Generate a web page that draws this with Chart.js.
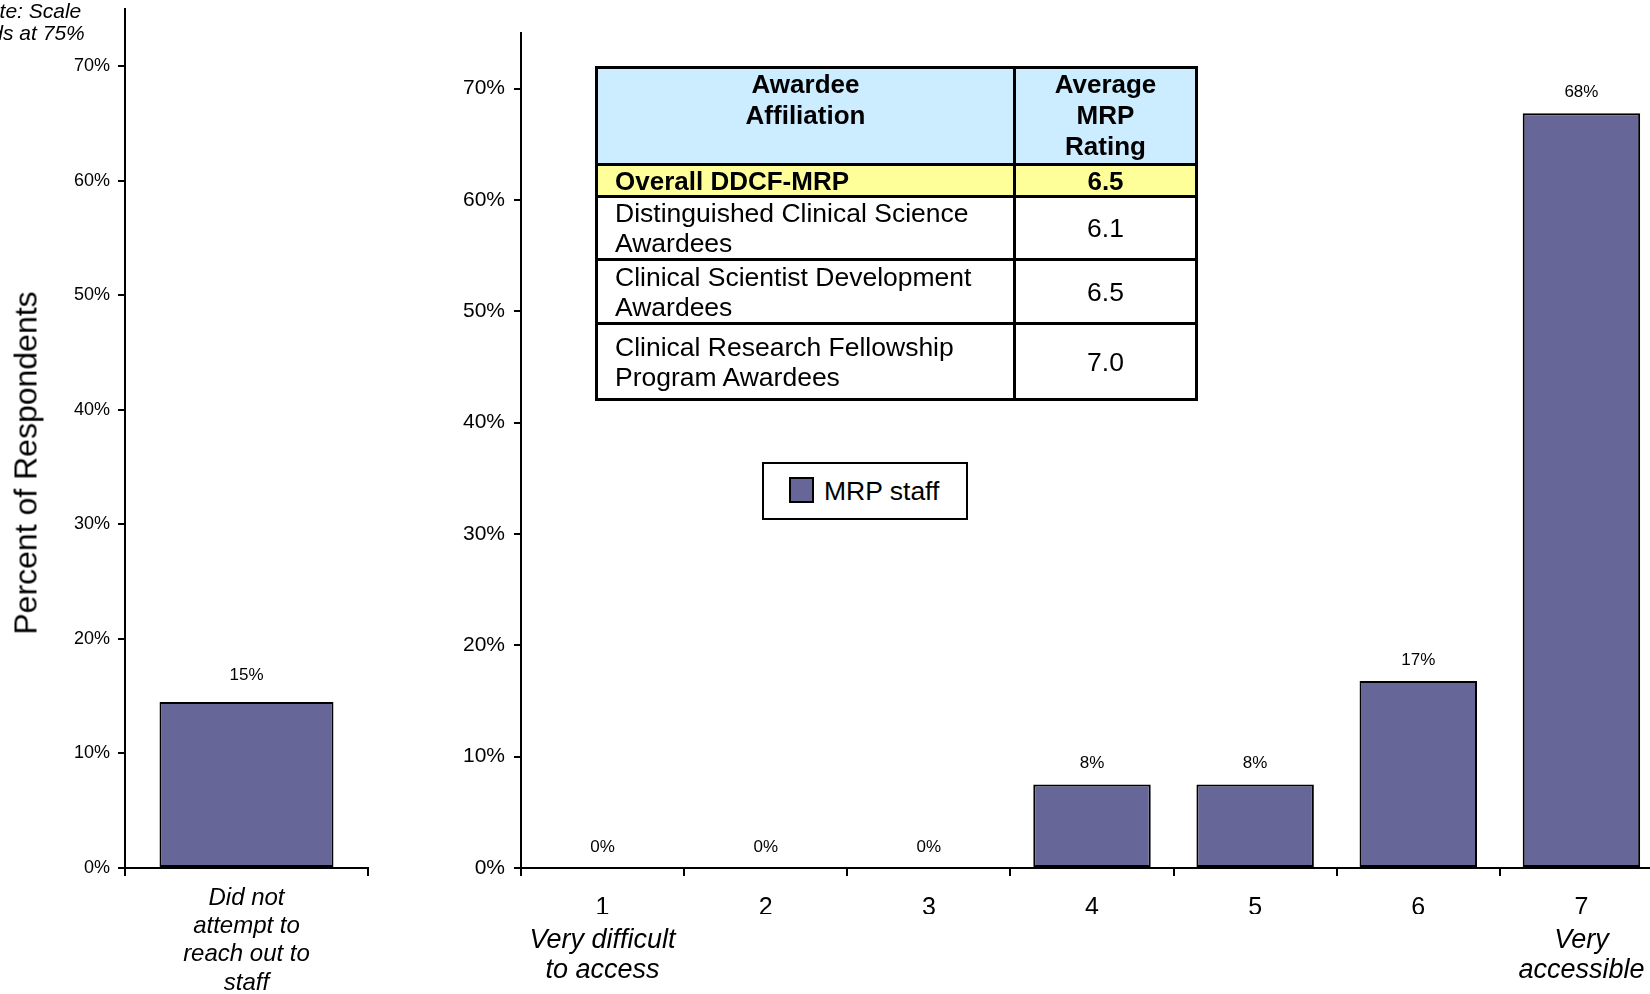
<!DOCTYPE html>
<html>
<head>
<meta charset="utf-8">
<script src="https://cdn.jsdelivr.net/npm/chart.js@4.4.1/dist/chart.umd.min.js"></script>
<style>
  html, body { margin: 0; padding: 0; background: #fff; }
  body { position: relative; width: 1650px; height: 994px; overflow: hidden; font-family: "Liberation Sans", Arial, sans-serif; color: #000; }
  canvas { position: absolute; top: 0; }
  #leftChart { left: 0; }
  #rightChart { left: 441px; }
  #note { position: absolute; left: -28px; top: 0; width: 110px; text-align: center; font-style: italic; font-size: 21px; line-height: 22px; white-space: nowrap; }
  #note div + div { position: relative; left: -4px; }
  #yTitle { position: absolute; left: 26px; top: 463px; transform: translate(-50%, -50%) rotate(-90deg); font-size: 32px; white-space: nowrap; }
  #ratingTable { position: absolute; left: 595px; top: 66px; width: 600px; border-collapse: collapse; table-layout: fixed; font-size: 26.5px; line-height: 30px; }
  #ratingTable th, #ratingTable td { border: 3px solid #000; padding: 0; }
  #ratingTable th { background: #CCECFF; font-weight: bold; font-size: 26px; text-align: center; vertical-align: top; line-height: 31px; }
  #ratingTable td { vertical-align: middle; }
  #ratingTable td.name { padding-left: 17px; }
  #ratingTable td.val { text-align: center; }
  #ratingTable tr.overall td { background: #FFFF99; font-weight: bold; font-size: 26px; line-height: 28px; }
  #legend { position: absolute; left: 762px; top: 462px; width: 206px; height: 58px; box-sizing: border-box; border: 2px solid #000; background: #fff; }
  #legend .swatch { position: absolute; left: 25px; top: 13px; width: 25px; height: 26px; box-sizing: border-box; border: 2px solid #000; background: #666699; }
  #legend .text { position: absolute; left: 60px; top: 12px; font-size: 26.5px; line-height: 30px; white-space: nowrap; }
</style>
</head>
<body>
<canvas id="leftChart" width="380" height="994"></canvas>
<canvas id="rightChart" width="1240" height="994"></canvas>
<div id="note"><div>Note: Scale</div><div>ends at 75%</div></div>
<div id="yTitle">Percent of Respondents</div>
<table id="ratingTable"></table>
<div id="legend"><span class="swatch"></span><span class="text">MRP staff</span></div>
<script>
// accessibility rating, 1..7
const scaleLabels = ['1', '2', '3', '4', '5', '6', '7'];
const scaleEnds = [['Very difficult', 'to access'], '', '', '', '', '', ['Very', 'accessible']];
const staffValues = [0, 0, 0, 7.5, 7.5, 16.8, 67.8];

// separate panel on the left
const noAttemptLabels = [['Did not', 'attempt to', 'reach out to', 'staff']];
const noAttemptValues = [14.5];

const yTicks = [0, 10, 20, 30, 40, 50, 60, 70];
const seriesName = 'MRP staff';

// inset table
const tableHead = [['Awardee', 'Affiliation'], ['Average', 'MRP', 'Rating']];
const affiliations = [
    'Overall DDCF-MRP',
    'Distinguished Clinical Science Awardees',
    'Clinical Scientist Development Awardees',
    'Clinical Research Fellowship Program Awardees'
];
const ratings = ['6.5', '6.1', '6.5', '7.0'];
const rowHeights = [97, 32, 63, 64, 76];

// build the table
const table = document.getElementById('ratingTable');
let html = '<colgroup><col style="width:418px"><col style="width:182px"></colgroup>';
html += '<tr style="height:' + rowHeights[0] + 'px"><th>' + tableHead[0].join('<br>') + '</th><th>' + tableHead[1].join('<br>') + '</th></tr>';
affiliations.forEach((name, i) => {
    const cls = i === 0 ? ' class="overall"' : '';
    html += '<tr' + cls + ' style="height:' + rowHeights[i + 1] + 'px"><td class="name">' + name + '</td><td class="val">' + ratings[i] + '</td></tr>';
});
table.innerHTML = html;

Chart.defaults.font.family = '"Liberation Sans", Arial, sans-serif';
Chart.defaults.color = '#000';
Chart.defaults.animation = false;

const barColor = '#666699';

const axisGrid = (len) => ({
    display: true,
    drawOnChartArea: false,
    drawTicks: true,
    tickLength: len,
    color: '#000',
    lineWidth: 2
});
const axisBorder = { display: true, color: '#000', width: 2 };

// keep label overflow from pushing the plot area around
const noPad = (s) => { s.paddingTop = 0; s.paddingBottom = 0; s.paddingLeft = 0; s.paddingRight = 0; };

// value labels above the bars
const barLabels = {
    id: 'barLabels',
    afterDatasetsDraw(chart, args, opts) {
        const ctx = chart.ctx;
        const values = chart.data.datasets[0].data;
        ctx.save();
        ctx.font = opts.font;
        ctx.fillStyle = '#000';
        ctx.textAlign = 'center';
        ctx.textBaseline = 'middle';
        chart.getDatasetMeta(0).data.forEach((bar, i) => {
            ctx.fillText(Math.round(values[i]) + '%', bar.x, bar.y - opts.gap);
        });
        ctx.restore();
    }
};

const yScale = (fontSize, pad, width) => ({
    min: 0,
    max: 75,
    grid: axisGrid(7),
    border: axisBorder,
    ticks: { font: { size: fontSize }, padding: pad, callback: v => v + '%' },
    afterBuildTicks: s => { s.ticks = yTicks.map(v => ({ value: v })); },
    afterFit: s => { s.width = width; noPad(s); }
});

new Chart(document.getElementById('leftChart'), {
    type: 'bar',
    data: {
        labels: noAttemptLabels,
        datasets: [{
            label: seriesName,
            data: noAttemptValues,
            backgroundColor: barColor,
            borderColor: '#000',
            borderWidth: 2,
            borderSkipped: false,
            barPercentage: 0.716,
            categoryPercentage: 1
        }]
    },
    options: {
        responsive: false,
        layout: { autoPadding: false, padding: { top: 9, right: 12, bottom: 0, left: 0 } },
        plugins: {
            legend: { display: false },
            tooltip: { enabled: false },
            barLabels: { font: '17px "Liberation Sans"', gap: 27 }
        },
        scales: {
            x: {
                grid: axisGrid(8),
                border: axisBorder,
                ticks: { font: { size: 24, style: 'italic', lineHeight: 1.18 }, padding: 8, maxRotation: 0, autoSkip: false },
                afterFit: s => { s.height = 126; noPad(s); }
            },
            y: yScale(18, 8, 125)
        }
    },
    plugins: [barLabels]
});

new Chart(document.getElementById('rightChart'), {
    type: 'bar',
    data: {
        labels: scaleLabels,
        datasets: [{
            label: seriesName,
            data: staffValues,
            backgroundColor: barColor,
            borderColor: '#000',
            borderWidth: 2,
            borderSkipped: false,
            barPercentage: 0.72,
            categoryPercentage: 1
        }]
    },
    options: {
        responsive: false,
        layout: { autoPadding: false, padding: { top: 33, right: 18, bottom: 0, left: 0 } },
        plugins: {
            legend: { display: false },
            tooltip: { enabled: false },
            barLabels: { font: '17px "Liberation Sans"', gap: 21 }
        },
        scales: {
            x: {
                weight: 0,
                grid: axisGrid(8),
                border: axisBorder,
                ticks: { font: { size: 25 }, padding: 17, maxRotation: 0, autoSkip: false },
                afterFit: s => { s.height = 46; noPad(s); }
            },
            x2: {
                type: 'category',
                labels: scaleEnds,
                offset: true,
                position: 'bottom',
                weight: 1,
                grid: { display: false },
                border: { display: false },
                ticks: { font: { size: 27, style: 'italic', lineHeight: 1.09 }, padding: 4, maxRotation: 0, autoSkip: false },
                afterFit: s => { s.height = 80; noPad(s); }
            },
            y: yScale(21, 9, 80)
        }
    },
    plugins: [barLabels]
});
</script>
</body>
</html>
